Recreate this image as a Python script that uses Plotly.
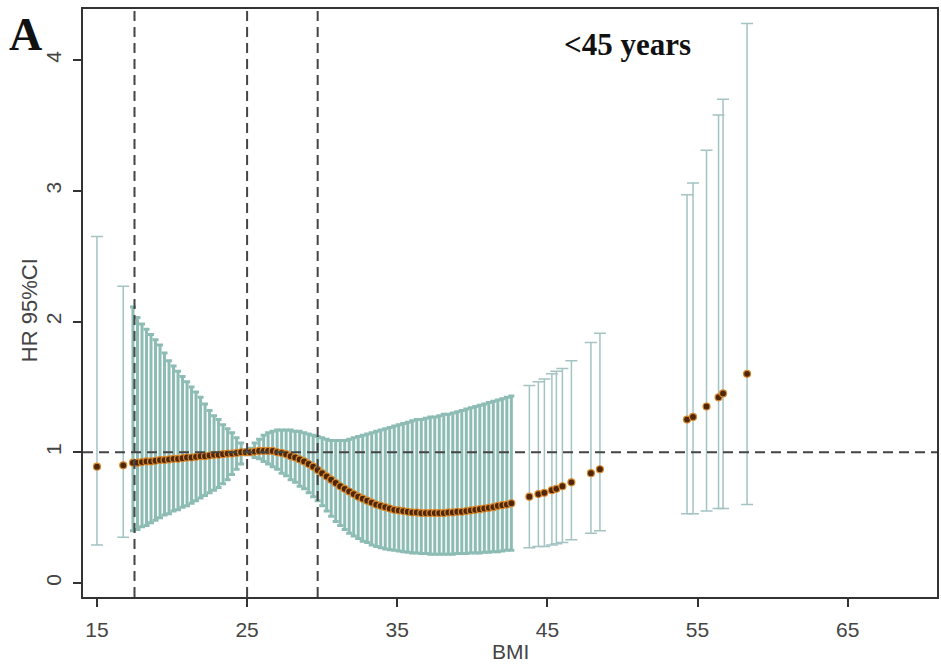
import plotly.graph_objects as go

# Dense spline region (BMI 17.4 - 42.6)
bmi_dense = [17.4, 17.7, 18.0, 18.3, 18.6, 18.9, 19.2, 19.5, 19.8, 20.1,
             20.4, 20.7, 21.0, 21.3, 21.6, 21.9, 22.2, 22.5, 22.8, 23.1,
             23.4, 23.7, 24.0, 24.3, 24.6, 24.9, 25.2, 25.5, 25.8, 26.1,
             26.4, 26.7, 27.0, 27.3, 27.6, 27.9, 28.2, 28.5, 28.8, 29.1,
             29.4, 29.7, 30.0, 30.3, 30.6, 30.9, 31.2, 31.5, 31.8, 32.1,
             32.4, 32.7, 33.0, 33.3, 33.6, 33.9, 34.2, 34.5, 34.8, 35.1,
             35.4, 35.7, 36.0, 36.3, 36.6, 36.9, 37.2, 37.5, 37.8, 38.1,
             38.4, 38.7, 39.0, 39.3, 39.6, 39.9, 40.2, 40.5, 40.8, 41.1,
             41.4, 41.7, 42.0, 42.3, 42.6]
hr_dense = [0.92, 0.92, 0.925, 0.93, 0.93, 0.935, 0.94, 0.94, 0.945, 0.95,
            0.95, 0.955, 0.96, 0.96, 0.965, 0.97, 0.97, 0.975, 0.98, 0.98,
            0.985, 0.99, 0.99, 0.995, 1.0, 1.0, 1.0, 1.005, 1.01, 1.01,
            1.01, 1.01, 1.0, 0.995, 0.985, 0.97, 0.96, 0.945, 0.93, 0.91,
            0.89, 0.865, 0.84, 0.815, 0.79, 0.765, 0.74, 0.72, 0.70, 0.68,
            0.66, 0.645, 0.63, 0.615, 0.60, 0.59, 0.58, 0.57, 0.56, 0.555,
            0.55, 0.545, 0.54, 0.54, 0.535, 0.535, 0.535, 0.535, 0.535, 0.535,
            0.54, 0.54, 0.545, 0.545, 0.55, 0.555, 0.56, 0.565, 0.57, 0.575,
            0.58, 0.59, 0.595, 0.60, 0.61]
upper_dense = [2.11, 2.03, 1.98, 1.94, 1.90, 1.86, 1.82, 1.76, 1.70, 1.66,
               1.62, 1.58, 1.54, 1.50, 1.46, 1.42, 1.37, 1.32, 1.28, 1.25,
               1.21, 1.18, 1.15, 1.11, 1.07, 1.02, 1.03, 1.07, 1.10, 1.13,
               1.15, 1.16, 1.17, 1.17, 1.17, 1.17, 1.16, 1.16, 1.15, 1.14,
               1.13, 1.12, 1.11, 1.10, 1.09, 1.09, 1.09, 1.09, 1.10, 1.11,
               1.12, 1.13, 1.14, 1.15, 1.16, 1.17, 1.18, 1.19, 1.20, 1.21,
               1.22, 1.23, 1.24, 1.25, 1.25, 1.26, 1.27, 1.27, 1.28, 1.29,
               1.29, 1.30, 1.31, 1.32, 1.33, 1.34, 1.35, 1.36, 1.37, 1.38,
               1.39, 1.40, 1.41, 1.42, 1.43]
lower_dense = [0.40, 0.41, 0.43, 0.44, 0.46, 0.48, 0.50, 0.52, 0.53, 0.55,
               0.56, 0.58, 0.59, 0.61, 0.63, 0.65, 0.67, 0.69, 0.71, 0.73,
               0.76, 0.79, 0.83, 0.87, 0.91, 0.98, 0.98, 0.96, 0.95, 0.93,
               0.91, 0.89, 0.87, 0.84, 0.82, 0.79, 0.77, 0.74, 0.72, 0.69,
               0.66, 0.63, 0.59, 0.55, 0.51, 0.47, 0.44, 0.41, 0.38, 0.36,
               0.34, 0.32, 0.31, 0.29, 0.28, 0.27, 0.26, 0.255, 0.25, 0.245,
               0.24, 0.235, 0.23, 0.23, 0.225, 0.225, 0.22, 0.22, 0.22, 0.22,
               0.22, 0.22, 0.225, 0.225, 0.225, 0.23, 0.23, 0.23, 0.235, 0.235,
               0.24, 0.24, 0.245, 0.25, 0.25]

# Sparse points
bmi_sparse = [15.0, 16.75, 43.8, 44.4, 44.8, 45.3, 45.6, 46.0, 46.6, 47.9, 48.5,
              54.3, 54.7, 55.6, 56.4, 56.7, 58.3]
hr_sparse = [0.89, 0.90, 0.66, 0.68, 0.69, 0.71, 0.72, 0.74, 0.77, 0.84, 0.87,
             1.25, 1.27, 1.35, 1.42, 1.45, 1.60]
upper_sparse = [2.65, 2.27, 1.51, 1.54, 1.56, 1.60, 1.62, 1.64, 1.70, 1.84, 1.91,
                2.97, 3.06, 3.31, 3.58, 3.70, 4.28]
lower_sparse = [0.29, 0.35, 0.27, 0.28, 0.28, 0.29, 0.30, 0.31, 0.33, 0.38, 0.40,
                0.53, 0.53, 0.55, 0.57, 0.57, 0.60]

ref_lines_bmi = [17.5, 25.0, 29.7]
ref_hr = 1.0
x_ticks = [15, 25, 35, 45, 55, 65]
y_ticks = [0, 1, 2, 3, 4]

fig = go.Figure()

def add_group(x, hr, up, lo, color, thick, capw):
    fig.add_trace(go.Scatter(
        x=x, y=hr, mode="markers",
        marker=dict(size=0.1, color="rgba(0,0,0,0)"),
        error_y=dict(type="data", symmetric=False,
                     array=[u - h for u, h in zip(up, hr)],
                     arrayminus=[h - l for h, l in zip(hr, lo)],
                     color=color, thickness=thick, width=capw),
        showlegend=False, hoverinfo="skip"))

add_group(bmi_dense, hr_dense, upper_dense, lower_dense, "#8dbcb5", 3, 3)
add_group(bmi_sparse, hr_sparse, upper_sparse, lower_sparse, "#a3c4c2", 1.5, 6)

for xs, ys in [(bmi_dense, hr_dense), (bmi_sparse, hr_sparse)]:
    fig.add_trace(go.Scatter(
        x=xs, y=ys, mode="markers",
        marker=dict(size=7, color="#4f2608", line=dict(color="#d98a2e", width=1.2)),
        showlegend=False))

dash = "10px,6px"
for xv in ref_lines_bmi:
    fig.add_shape(type="line", xref="x", yref="paper", x0=xv, x1=xv, y0=0, y1=1,
                  line=dict(color="#444444", width=2, dash=dash))
fig.add_shape(type="line", xref="paper", yref="y", x0=0, x1=1, y0=ref_hr, y1=ref_hr,
              line=dict(color="#444444", width=2, dash=dash))

# plot area in pixels: left 83, right 939, top 9, bottom 597
def px(xp):
    return (xp - 83) / 856.0

def py(yp):
    return (597 - yp) / 588.0

def label(text, x, y, size, family, color, angle=0):
    fig.add_annotation(text=text, x=px(x), y=py(y), xref="paper", yref="paper",
                       xanchor="center", yanchor="middle", textangle=angle,
                       showarrow=False, font=dict(family=family, size=size, color=color))

label("<b>A</b>", 25, 34, 46, "Liberation Serif", "#111")
label("<b><45 years</b>", 629, 44, 31, "Liberation Serif", "#111")
label("HR 95%CI", 29, 310, 22, "Liberation Sans", "#444", -90)
label("BMI", 512, 651, 21, "Liberation Sans", "#444")

fig.update_layout(
    width=941, height=667,
    margin=dict(l=83, r=2, t=9, b=70),
    plot_bgcolor="white", paper_bgcolor="white",
    font=dict(family="Liberation Sans", color="#444"),
)
fig.update_xaxes(range=[14.07, 70.95], tickvals=x_ticks, showgrid=False, zeroline=False,
                 showline=True, mirror=True, linecolor="#333", linewidth=2,
                 ticks="outside", ticklen=8, tickcolor="#333", tickwidth=1.5,
                 ticklabelstandoff=5,
                 tickfont=dict(size=21, color="#444"))
fig.update_yaxes(range=[-0.107, 4.39], tickvals=y_ticks, showgrid=False, zeroline=False,
                 showline=True, mirror=True, linecolor="#333", linewidth=2,
                 ticks="outside", ticklen=8, tickcolor="#333", tickwidth=1.5,
                 ticklabelstandoff=4,
                 tickangle=-90, tickfont=dict(size=21, color="#444"))

fig.write_html("out.html")
